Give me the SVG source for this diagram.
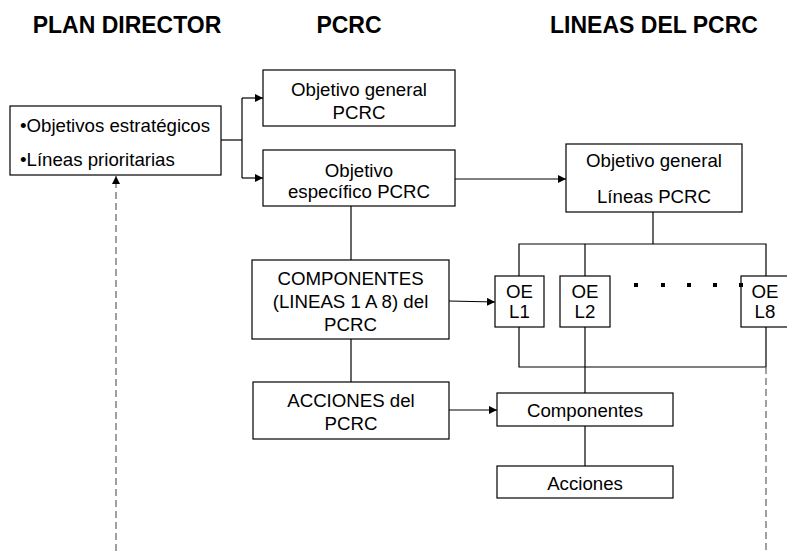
<svg xmlns="http://www.w3.org/2000/svg" width="787" height="551" viewBox="0 0 787 551">
<style>
.box{fill:#fff;stroke:#000;stroke-width:1.2}
.t{font-family:"Liberation Sans",Arial,sans-serif;font-size:18.67px;fill:#000;text-anchor:middle}
.tl{text-anchor:start}
.h{font-family:"Liberation Sans",Arial,sans-serif;font-size:23px;font-weight:bold;fill:#000;text-anchor:middle}
.c{fill:none;stroke:#000;stroke-width:1.2}
.d{fill:none;stroke:#808080;stroke-width:1.5;stroke-dasharray:7 4}
</style>
<defs>
<marker id="ah" viewBox="0 0 10 10" refX="10" refY="5" markerWidth="8" markerHeight="8" markerUnits="userSpaceOnUse" orient="auto">
<path d="M0,0 L10,5 L0,10 z" fill="#000"/>
</marker>
</defs>
<rect width="787" height="551" fill="#fff"/>
<g id="titles">
<text class="h" x="127" y="33">PLAN DIRECTOR</text>
<text class="h" x="349" y="33">PCRC</text>
<text class="h" x="654" y="33">LINEAS DEL PCRC</text>
</g>
<g id="connectors">
<polyline class="c" points="221,140 242,140"/>
<polyline class="c" points="242,98 242,178"/>
<line class="c" x1="242" y1="98" x2="263" y2="98" marker-end="url(#ah)"/>
<line class="c" x1="242" y1="178" x2="263" y2="178" marker-end="url(#ah)"/>
<line class="c" x1="455" y1="179" x2="566" y2="179" marker-end="url(#ah)"/>
<line class="c" x1="351" y1="206" x2="351" y2="260"/>
<line class="c" x1="351" y1="339" x2="351" y2="382"/>
<line class="c" x1="449" y1="301" x2="495" y2="302" marker-end="url(#ah)"/>
<line class="c" x1="449" y1="410" x2="497" y2="410" marker-end="url(#ah)"/>
<line class="c" x1="653" y1="212" x2="653" y2="244"/>
<polyline class="c" points="519,276 519,244 766,244 766,276"/>
<line class="c" x1="585" y1="244" x2="585" y2="276"/>
<polyline class="c" points="519,327 519,367 766,367 766,327"/>
<line class="c" x1="585" y1="327" x2="585" y2="393"/>
<line class="c" x1="585" y1="426" x2="585" y2="466"/>
<line class="d" x1="766" y1="367" x2="766" y2="551"/>
<line class="d" x1="116" y1="551" x2="116" y2="176" marker-end="url(#ah)"/>
</g>
<g id="plan-director">
<rect class="box" x="10" y="106" width="211" height="69"/>
<text class="t tl" x="20" y="132">•Objetivos estratégicos</text>
<text class="t tl" x="20" y="166">•Líneas prioritarias</text>
</g>
<g id="objetivo-general-pcrc">
<rect class="box" x="263" y="70" width="192" height="56"/>
<text class="t" x="359" y="96">Objetivo general</text>
<text class="t" x="359" y="119">PCRC</text>
</g>
<g id="objetivo-especifico-pcrc">
<rect class="box" x="263" y="150" width="192" height="56"/>
<text class="t" x="359" y="177">Objetivo</text>
<text class="t" x="359" y="198">específico PCRC</text>
</g>
<g id="componentes-pcrc">
<rect class="box" x="252" y="260" width="197" height="79"/>
<text class="t" x="350.5" y="285">COMPONENTES</text>
<text class="t" x="350.5" y="308">(LINEAS 1 A 8) del</text>
<text class="t" x="350.5" y="331">PCRC</text>
</g>
<g id="acciones-pcrc">
<rect class="box" x="253" y="382" width="196" height="57"/>
<text class="t" x="351" y="407">ACCIONES del</text>
<text class="t" x="351" y="430">PCRC</text>
</g>
<g id="objetivo-general-lineas">
<rect class="box" x="566" y="144" width="176" height="68"/>
<text class="t" x="654" y="167">Objetivo general</text>
<text class="t" x="654" y="203">Líneas PCRC</text>
</g>
<g id="oe-l1">
<rect class="box" x="495" y="276" width="49" height="51"/>
<text class="t" x="519.5" y="298">OE</text>
<text class="t" x="519.5" y="318">L1</text>
</g>
<g id="oe-l2">
<rect class="box" x="560" y="276" width="50" height="51"/>
<text class="t" x="585" y="298">OE</text>
<text class="t" x="585" y="318">L2</text>
</g>
<g id="oe-l8">
<rect class="box" x="741" y="276" width="50" height="51"/>
<text class="t" x="765" y="298">OE</text>
<text class="t" x="765" y="318">L8</text>
</g>
<g id="dots" fill="#000">
<rect x="634" y="283" width="4" height="4"/>
<rect x="661" y="283" width="4" height="4"/>
<rect x="687" y="283" width="4" height="4"/>
<rect x="713" y="283" width="4" height="4"/>
<rect x="739" y="283" width="4" height="4"/>
</g>
<g id="componentes">
<rect class="box" x="497" y="393" width="176" height="33"/>
<text class="t" x="585" y="417">Componentes</text>
</g>
<g id="acciones">
<rect class="box" x="497" y="466" width="176" height="32"/>
<text class="t" x="585" y="490">Acciones</text>
</g>
</svg>
